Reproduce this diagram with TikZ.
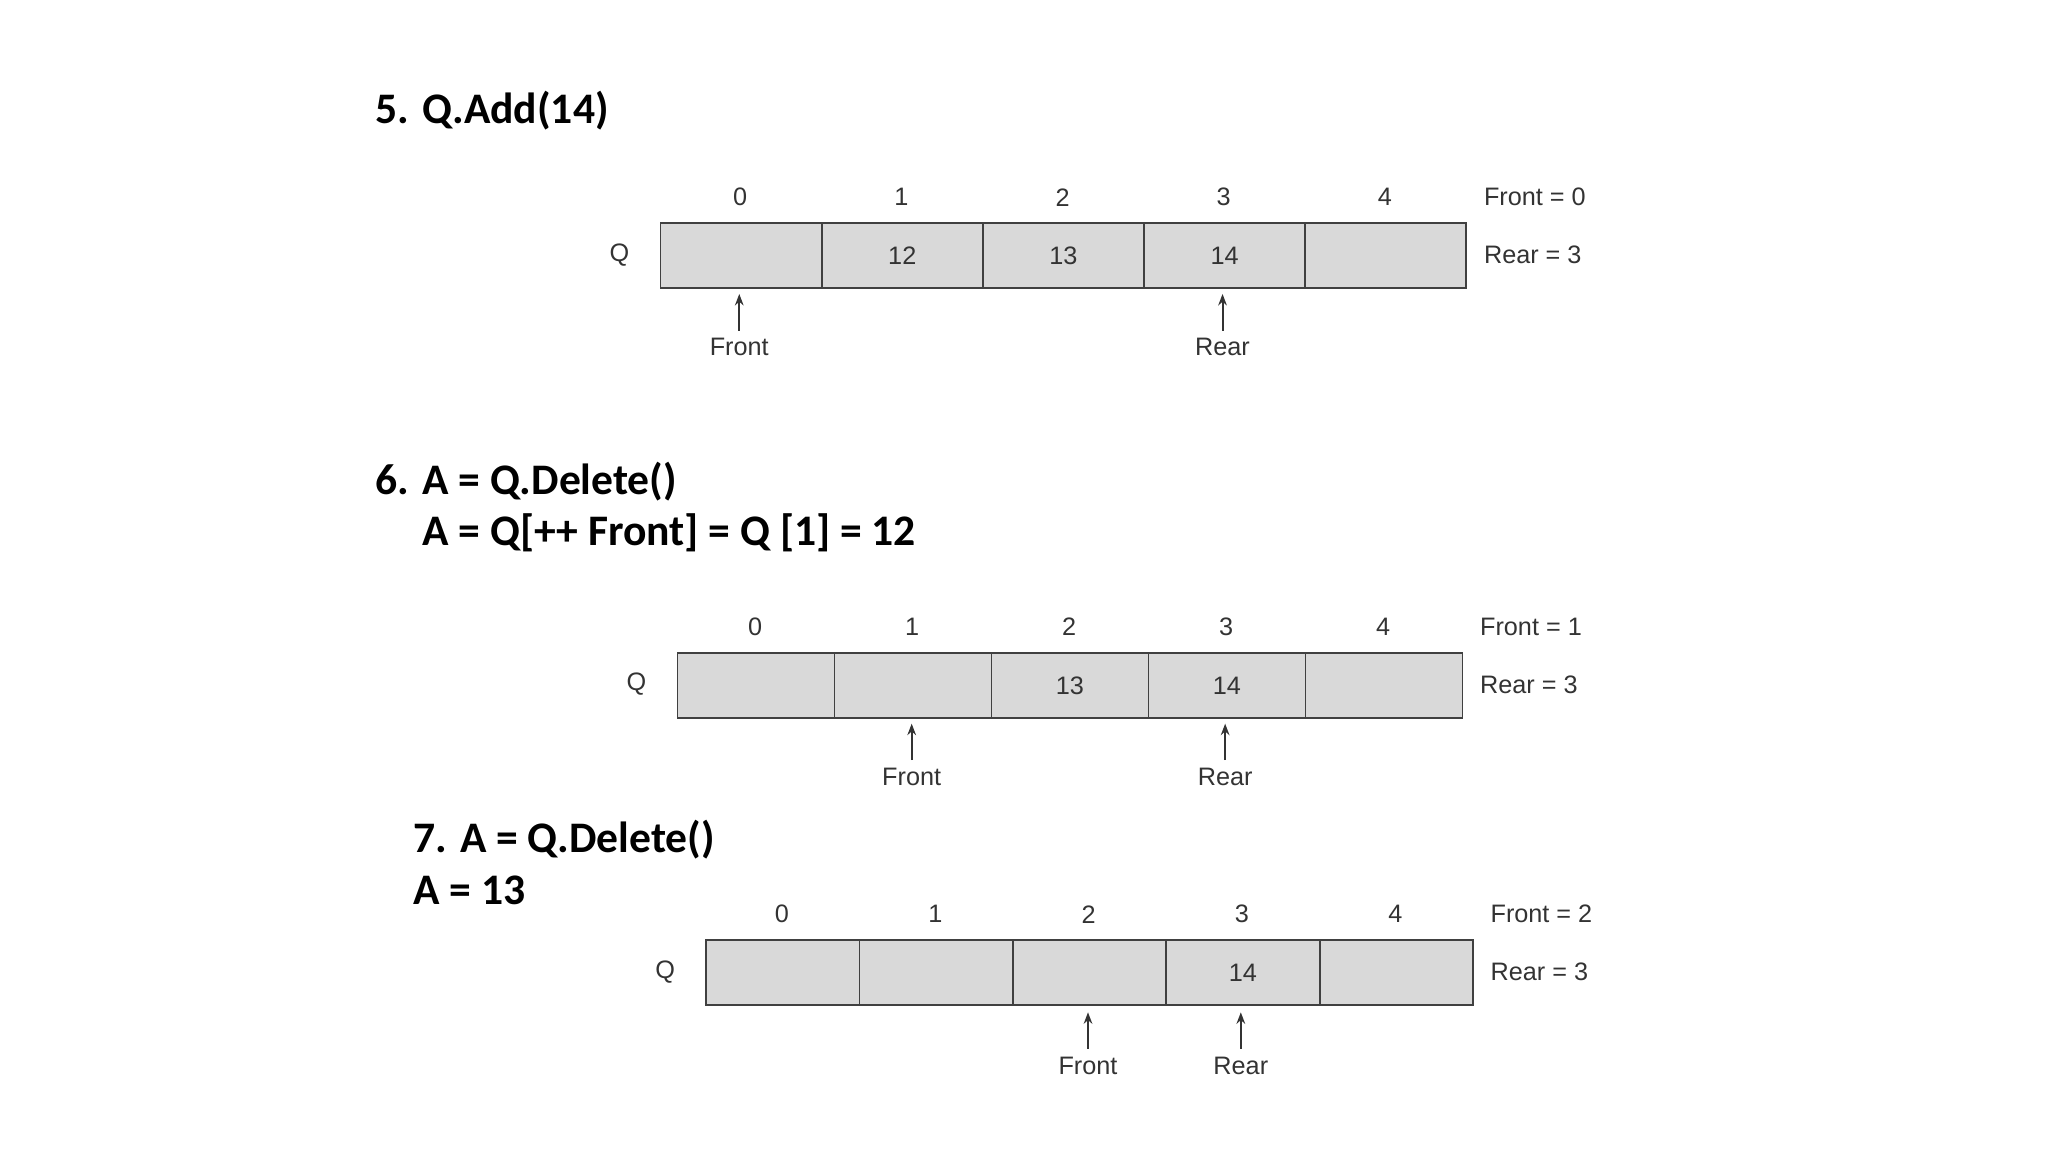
\documentclass[tikz,border=0pt]{standalone}
\usepackage{fontspec}
\usetikzlibrary{arrows.meta}
\setmainfont{Liberation Sans}
\newfontfamily\headfont{Carlito}
\begin{document}
\begin{tikzpicture}[x=0.02cm,y=-0.02cm,
  cellbox/.style={draw=black!75,line width=0.8pt,fill=black!15},
  idx/.style={font=\fontsize{11}{13}\selectfont,text=black!80},
  head/.style={font=\headfont\bfseries\fontsize{19}{22}\selectfont,anchor=west,inner sep=0},
  ptr/.style={-{Stealth[length=5pt]},line width=0.9pt,black!80}]
\useasboundingbox (0,0) rectangle (1568,882);
\newcommand{\qarray}[7]{% #1 name, #2 x0, #3 x1, #4 y top, #5 vals list, #6 front, #7 rear
  \pgfmathsetmacro{\cw}{(#3-#2)/5}
  \foreach \v [count=\i from 0] in {#5} {
    \node[cellbox,minimum width=\cw*0.02cm,minimum height=1cm,anchor=north west,inner sep=0,idx] (#1c\i) at ({#2+\i*\cw},#4) {\v};
    \node[idx] (#1i\i) at ({#2+(\i+0.5)*\cw},#4-19) {\i};
  }
  \node[idx,anchor=east] (#1q) at (#2-17,#4+25) {Q};
  \node[idx,anchor=west] (#1f) at (#3+8,#4-19) {Front = #6};
  \node[idx,anchor=west] (#1r) at (#3+8,#4+25) {Rear = #7};
}
\node[head] (h5) at (287,85) {5. Q.Add(14)};
\qarray{a}{505}{1122}{170}{{},12,13,14,{}}{0}{3}
\node[idx] (af) at (566,266) {Front};
\node[idx] (ar) at (936,266) {Rear};
\draw[ptr] (af.north) -- ++(0,-28) coordinate (afe);
\draw[ptr] (ar.north) -- ++(0,-28) coordinate (are);

\node[head] (h6) at (287,369) {6. A = Q.Delete()};
\node[head] (h6b) at (323,408) {A = Q[++ Front] = Q [1] = 12};
\qarray{b}{518}{1119}{499}{{},{},13,14,{}}{1}{3}
\node[idx] (bf) at (698,595) {Front};
\node[idx] (br) at (938,595) {Rear};
\draw[ptr] (bf.north) -- ++(0,-28) coordinate (bfe);
\draw[ptr] (br.north) -- ++(0,-28) coordinate (bre);

\node[head] (h7) at (316,643) {7. A = Q.Delete()};
\node[head] (h7b) at (316,682) {A = 13};
\qarray{c}{540}{1127}{719}{{},{},{},14,{}}{2}{3}
\node[idx] (cf) at (833,816) {Front};
\node[idx] (cr) at (950,816) {Rear};
\draw[ptr] (cf.north) -- ++(0,-28) coordinate (cfe);
\draw[ptr] (cr.north) -- ++(0,-28) coordinate (cre);
\end{tikzpicture}
\end{document}
